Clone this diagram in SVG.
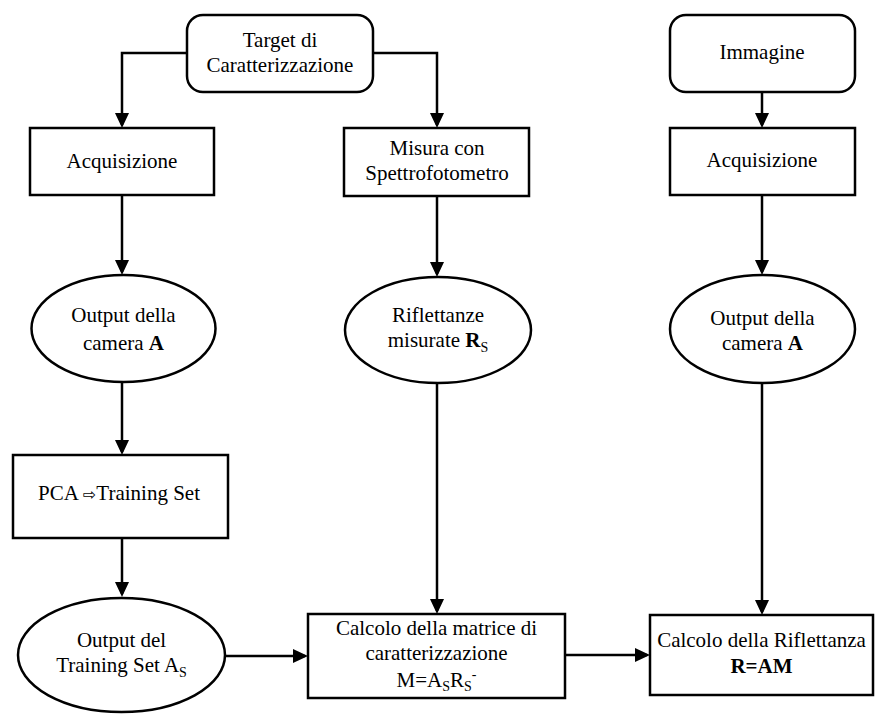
<svg xmlns="http://www.w3.org/2000/svg" width="877" height="714" viewBox="0 0 877 714" font-family="'Liberation Serif', Tinos, 'Times New Roman', 'DejaVu Serif', serif">
  <style>
    .shape { fill: #ffffff; stroke: #000000; stroke-width: 2.5; }
    .lbl { font-family: 'Liberation Serif', Tinos, 'Times New Roman', 'DejaVu Serif', serif; font-size: 21px; fill: #000000; text-anchor: middle; }
    .b { font-weight: bold; }
    .sub { font-size: 14px; }
    .edge { fill: none; stroke: #000000; stroke-width: 2.5; marker-end: url(#arrow); }
  </style>
  <defs>
    <marker id="arrow" viewBox="0 0 15 14" refX="12" refY="7" markerWidth="15" markerHeight="14" markerUnits="userSpaceOnUse" orient="auto">
      <path d="M0,0 L15,7 L0,14 Z" fill="#000000"/>
    </marker>
  </defs>

  <rect width="877" height="714" fill="#ffffff"/>

  <g id="connectors">
    <path class="edge" d="M187,53 H122 V125"/>
    <path class="edge" d="M373,53 H437 V125"/>
    <path class="edge" d="M122,195 V272"/>
    <path class="edge" d="M437,196 V274"/>
    <path class="edge" d="M762,92 V125"/>
    <path class="edge" d="M762,195 V272"/>
    <path class="edge" d="M122,382 V452"/>
    <path class="edge" d="M122,538 V594"/>
    <path class="edge" d="M437,383 V611"/>
    <path class="edge" d="M762,383 V612"/>
    <path class="edge" d="M225,656 H305"/>
    <path class="edge" d="M565,655 H647"/>
  </g>

  <g id="target">
    <rect class="shape" x="187" y="15" width="186" height="77" rx="16" ry="16"/>
    <text class="lbl" x="280" y="47">Target di</text>
    <text class="lbl" x="280" y="72">Caratterizzazione</text>
  </g>

  <g id="immagine">
    <rect class="shape" x="670" y="15" width="185" height="77" rx="16" ry="16"/>
    <text class="lbl" x="762" y="59">Immagine</text>
  </g>

  <g id="acquisizione-left">
    <rect class="shape" x="30" y="128" width="184" height="67"/>
    <text class="lbl" x="122" y="168">Acquisizione</text>
  </g>

  <g id="misura">
    <rect class="shape" x="344" y="128" width="185" height="68"/>
    <text class="lbl" x="437" y="155">Misura con</text>
    <text class="lbl" x="437" y="180">Spettrofotometro</text>
  </g>

  <g id="acquisizione-right">
    <rect class="shape" x="670" y="128" width="185" height="67"/>
    <text class="lbl" x="762" y="167">Acquisizione</text>
  </g>

  <g id="output-camera-left">
    <ellipse class="shape" cx="123.5" cy="328.5" rx="92" ry="53.5"/>
    <text class="lbl" x="123.5" y="322">Output della</text>
    <text class="lbl" x="123.5" y="350">camera <tspan class="b">A</tspan></text>
  </g>

  <g id="riflettanze">
    <ellipse class="shape" cx="438" cy="330" rx="93" ry="53"/>
    <text class="lbl" x="438" y="322">Riflettanze</text>
    <text class="lbl" x="438" y="347">misurate <tspan class="b">R</tspan><tspan class="sub" dy="5">S</tspan></text>
  </g>

  <g id="output-camera-right">
    <ellipse class="shape" cx="762.5" cy="329" rx="92.5" ry="54"/>
    <text class="lbl" x="762.5" y="325">Output della</text>
    <text class="lbl" x="762.5" y="350">camera <tspan class="b">A</tspan></text>
  </g>

  <g id="pca">
    <rect class="shape" x="13" y="455" width="215" height="83"/>
    <text class="lbl" x="38" y="500" style="text-anchor:start">PCA <tspan font-family="DejaVu Sans, sans-serif" font-size="16">⇨</tspan>Training Set</text>
  </g>

  <g id="output-training">
    <ellipse class="shape" cx="121.5" cy="655" rx="103.5" ry="57"/>
    <text class="lbl" x="121.5" y="647">Output del</text>
    <text class="lbl" x="121.5" y="672">Training Set A<tspan class="sub" dy="5">S</tspan></text>
  </g>

  <g id="calcolo-matrice">
    <rect class="shape" x="308" y="614" width="257" height="84"/>
    <text class="lbl" x="436.5" y="635">Calcolo della matrice di</text>
    <text class="lbl" x="436.5" y="660">caratterizzazione</text>
    <text class="lbl" x="436.5" y="687">M=A<tspan class="sub" dy="4">S</tspan><tspan dy="-4">R</tspan><tspan class="sub" dy="4">S</tspan><tspan class="sub" dy="-12">-</tspan></text>
  </g>

  <g id="calcolo-riflettanza">
    <rect class="shape" x="650" y="615" width="223" height="80"/>
    <text class="lbl" x="761.5" y="647">Calcolo della Riflettanza</text>
    <text class="lbl b" x="761.5" y="673">R=AM</text>
  </g>
</svg>
